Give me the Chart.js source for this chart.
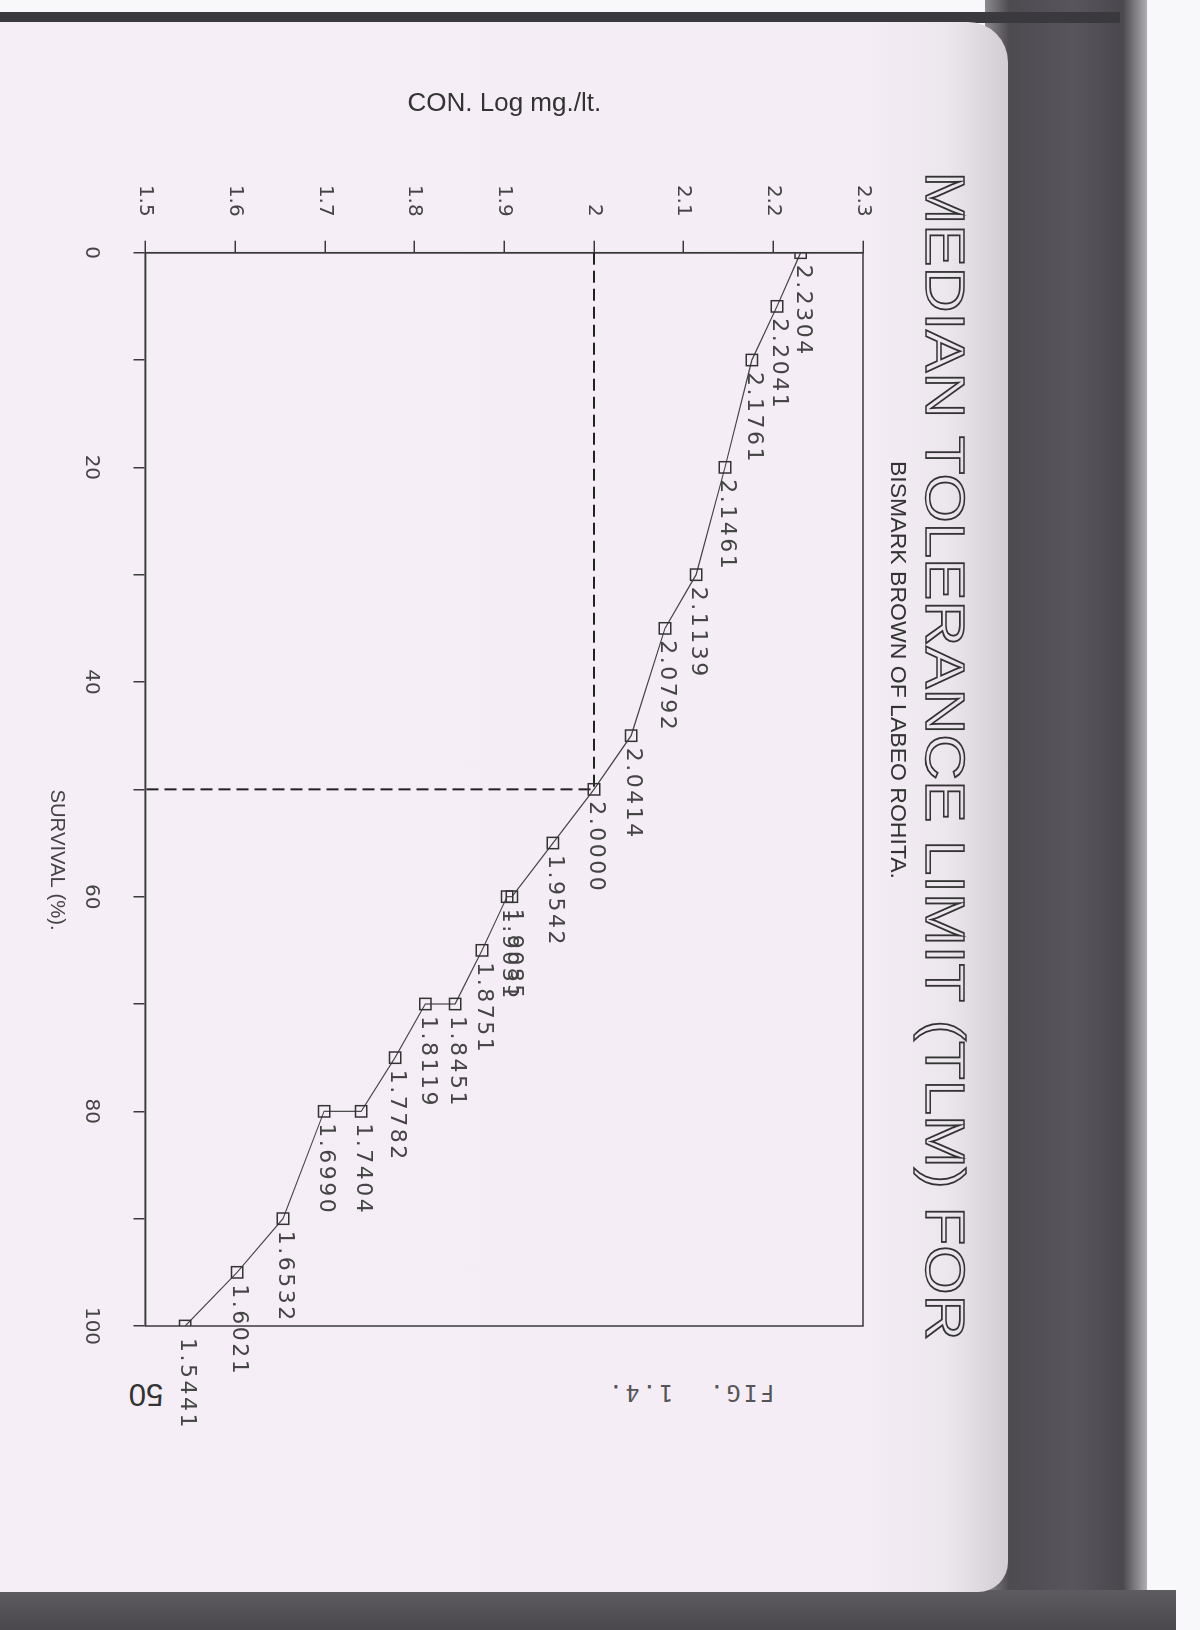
<!DOCTYPE html>
<html><head><meta charset="utf-8">
<script src="https://cdn.jsdelivr.net/npm/chart.js@4"></script>
<style>
html,body{margin:0;padding:0;width:1200px;height:1630px;overflow:hidden;background:#f8f8fa;position:relative;}
.abs{position:absolute;}
#spine{left:985px;top:0;width:162px;height:1630px;background:linear-gradient(to right,#8d8a8f 0%,#4d4b50 15%,#58565c 55%,#4a484d 85%,#b0aeb2 100%);}
#topband{left:0;top:12px;width:1120px;height:11px;background:#3a393d;}
#bottomband{left:0;top:1590px;width:1176px;height:40px;background:linear-gradient(#5e5c61,#4a484d);}
#paper{left:0;top:22px;width:1008px;height:1570px;background:linear-gradient(to right,#f5eef6 0%,#f4edf5 86%,#ece6ed 94%,#d2cdd3 100%);border-radius:0 40px 30px 0;}
#chartWrap{left:0;top:0;width:1420px;height:1000px;transform-origin:0 0;transform:translate(1000px,60px) rotate(90deg);}
#fig{left:560px;top:1380px;width:260px;text-align:center;font-family:'DejaVu Sans Mono',monospace;font-size:23px;letter-spacing:3px;color:#555;transform:rotate(180deg);white-space:pre;}
#pg{left:126px;top:1376px;width:40px;text-align:center;font-family:'Liberation Sans',sans-serif;font-size:31px;color:#333;transform:rotate(180deg);}
</style></head>
<body>
<div id="spine" class="abs"></div>
<div id="topband" class="abs"></div>
<div id="bottomband" class="abs"></div>
<div id="paper" class="abs"></div>
<div id="fig" class="abs">FIG.  1.4.</div>
<div id="pg" class="abs">50</div>
<div id="chartWrap" class="abs"><canvas id="c" width="1420" height="1000"></canvas></div>
<script>
// ---- data ----
const titleText = 'MEDIAN TOLERANCE LIMIT (TLM) FOR';
const subtitleText = 'BISMARK BROWN OF LABEO ROHITA.';
const xTitle = 'SURVIVAL (%).';
const yTitle = 'CON. Log mg./lt.';
const survival = [0, 5, 10, 20, 30, 35, 45, 50, 55, 60, 60, 65, 70, 70, 75, 80, 80, 90, 95, 100];
const logConc  = [2.2304, 2.2041, 2.1761, 2.1461, 2.1139, 2.0792, 2.0414, 2.0000, 1.9542, 1.9085, 1.9031,
                  1.8751, 1.8451, 1.8119, 1.7782, 1.7404, 1.6990, 1.6532, 1.6021, 1.5441];
const medianX = [0, 50, 50];
const medianY = [2.0, 2.0, 1.5];
const xLabelled = [0, 20, 40, 60, 80, 100];
const yTickLabels = ['1.5', '1.6', '1.7', '1.8', '1.9', '2', '2.1', '2.2', '2.3'];

const ink = '#3a3a3a';

function fitText(ctx, text, cx, cy, width, stroke) {
  const w = ctx.measureText(text).width;
  ctx.save();
  ctx.translate(cx, cy);
  ctx.scale(width / w, 1);
  ctx.textAlign = 'center';
  ctx.textBaseline = 'middle';
  if (stroke) ctx.strokeText(text, 0, 0); else ctx.fillText(text, 0, 0);
  ctx.restore();
}

const decor = {
  id: 'decor',
  beforeDatasetsDraw(chart) {
    const {ctx, chartArea: a} = chart;
    ctx.save();
    ctx.strokeStyle = ink; ctx.lineWidth = 1.5;
    ctx.strokeRect(a.left, a.top, a.right - a.left, a.bottom - a.top);
    ctx.restore();
  },
  afterDatasetsDraw(chart) {
    const ctx = chart.ctx;
    const meta = chart.getDatasetMeta(0);
    ctx.save();
    ctx.font = '22px "DejaVu Sans"';
    try { ctx.letterSpacing = '2.5px'; } catch (e) {}
    ctx.fillStyle = '#444';
    ctx.textAlign = 'left';
    ctx.textBaseline = 'middle';
    meta.data.forEach((el, i) => {
      ctx.fillText(logConc[i].toFixed(4), el.x + 12, el.y - 2);
    });
    ctx.restore();
  },
  afterDraw(chart) {
    const ctx = chart.ctx;
    ctx.save();
    ctx.font = '56px "Liberation Sans"';
    ctx.strokeStyle = '#333'; ctx.lineWidth = 1.6;
    fitText(ctx, titleText, 696, 59, 1169, true);
    ctx.font = '22px "Liberation Sans"';
    ctx.fillStyle = '#333';
    fitText(ctx, subtitleText, 610, 103, 418, false);
    ctx.font = '20px "Liberation Sans"';
    ctx.fillStyle = '#444';
    fitText(ctx, xTitle, 800, 943, 141, false);
    ctx.restore();
  }
};

new Chart(document.getElementById('c'), {
  type: 'scatter',
  data: {
    datasets: [{
      data: survival.map((s, i) => ({x: s, y: logConc[i]})),
      showLine: true,
      borderColor: '#444',
      borderWidth: 1.2,
      pointStyle: 'rect',
      pointRadius: 8,
      pointBorderWidth: 1.5,
      pointBorderColor: '#333',
      pointBackgroundColor: 'rgba(0,0,0,0)',
      tension: 0
    }, {
      data: medianX.map((s, i) => ({x: s, y: medianY[i]})),
      showLine: true,
      borderColor: '#222',
      borderWidth: 2,
      borderDash: [12, 6],
      pointRadius: 0
    }]
  },
  options: {
    responsive: false,
    animation: false,
    layout: {padding: {top: 137, right: 154, bottom: 0, left: 0}},
    plugins: {legend: {display: false}, tooltip: {enabled: false}, title: {display: false}},
    scales: {
      x: {
        type: 'linear', min: 0, max: 100,
        afterFit(s) { s.height = 145.6; },
        ticks: {stepSize: 10, padding: 30, color: '#444', font: {family: 'DejaVu Sans', size: 20},
          callback: v => xLabelled.includes(v) ? String(v) : ''},
        grid: {drawOnChartArea: false, drawTicks: true, tickLength: 12, color: ink, lineWidth: 1.5},
        border: {display: true, color: ink, width: 1.5}
      },
      y: {
        type: 'linear', min: 1.5, max: 2.3,
        afterFit(s) { s.width = 192.7; },
        ticks: {stepSize: 0.1, padding: 24, color: '#444', font: {family: 'DejaVu Sans', size: 20},
          callback: v => { const idx = Math.round((v - 1.5) * 10); return yTickLabels[idx] ?? ''; }},
        grid: {drawOnChartArea: false, drawTicks: true, tickLength: 12, color: ink, lineWidth: 1.5},
        border: {display: true, color: ink, width: 1.5},
        title: {display: true, text: yTitle, color: '#333', font: {family: 'Liberation Sans', size: 26}, padding: {top: 28, bottom: 0}}
      }
    }
  },
  plugins: [decor]
});
</script>
</body></html>
